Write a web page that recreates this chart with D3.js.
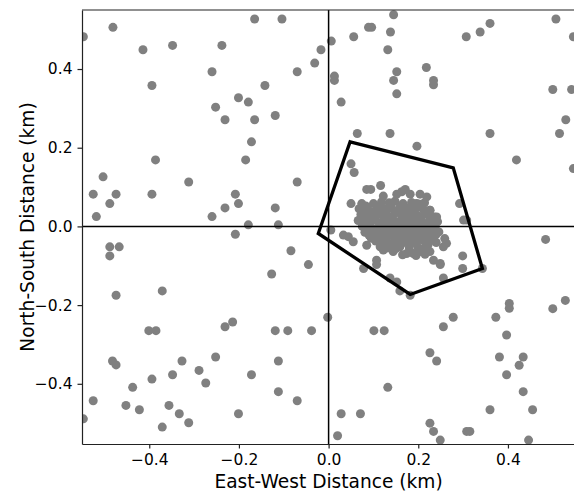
<!DOCTYPE html>
<html>
<head>
<meta charset="utf-8">
<script src="https://cdn.jsdelivr.net/npm/d3@7"></script>
<style>
  html, body { margin: 0; padding: 0; background: #fff; }
  svg { display: block; }
  text { font-family: "DejaVu Sans", sans-serif; fill: #000; }
</style>
</head>
<body>
<svg id="chart" width="574" height="493"></svg>
<script>
// Scattered points (km)
const scatterX = [
  -0.547,-0.481,-0.414,-0.348,-0.238,-0.165,-0.104,-0.260,-0.070,-0.394,
  -0.142,-0.252,-0.201,-0.179,-0.231,-0.165,-0.119,-0.172,-0.185,-0.386,
  -0.503,-0.312,-0.070,-0.525,-0.474,-0.394,-0.208,-0.488,-0.201,-0.518,
  -0.260,-0.231,-0.119,-0.179,-0.112,-0.208,-0.488,-0.467,-0.084,-0.488,
  -0.127,-0.474,-0.371,-0.231,-0.214,-0.401,-0.385,-0.119,-0.091,-0.482,
  -0.474,-0.327,-0.252,-0.112,-0.348,-0.289,-0.172,-0.394,-0.274,-0.437,
  -0.112,-0.525,-0.070,-0.452,-0.356,-0.422,-0.333,-0.201,-0.312,-0.371,
  -0.547,
  0.145,0.089,0.096,0.056,0.138,0.006,-0.017,-0.031,0.132,0.152,
  0.145,0.152,0.013,0.013,0.028,0.218,0.234,0.234,0.307,0.338,
  0.360,0.507,0.546,0.500,0.542,0.529,0.515,0.360,0.137,0.064,
  0.197,0.419,0.546,0.050,0.057,0.050,0.292,0.301,0.308,0.484,
  0.005,
  -0.045,0.343,0.299,0.299,0.256,0.249,0.107,0.107,0.078,0.137,
  0.152,0.159,0.182,0.403,0.403,0.528,0.500,0.278,0.256,0.373,
  0.397,-0.002,-0.038,0.101,0.124,0.226,0.241,0.381,0.434,0.425,
  0.397,0.132,0.434,0.028,0.071,0.360,0.455,0.020,0.226,0.234,
  0.308,0.315,0.249,0.446
];
const scatterY = [
  0.482,0.506,0.449,0.460,0.460,0.527,0.527,0.393,0.393,0.358,
  0.358,0.303,0.327,0.316,0.271,0.271,0.282,0.215,0.169,0.169,
  0.126,0.113,0.113,0.082,0.082,0.082,0.082,0.058,0.058,0.025,
  0.025,0.047,0.047,0.004,0.004,-0.020,-0.052,-0.052,-0.062,-0.075,
  -0.121,-0.175,-0.164,-0.255,-0.243,-0.265,-0.265,-0.265,-0.265,-0.342,
  -0.352,-0.342,-0.332,-0.342,-0.377,-0.366,-0.377,-0.388,-0.398,-0.409,
  -0.420,-0.443,-0.443,-0.455,-0.455,-0.466,-0.476,-0.476,-0.499,-0.510,
  -0.489,
  0.538,0.506,0.506,0.482,0.494,0.471,0.449,0.415,0.449,0.393,
  0.371,0.337,0.382,0.371,0.316,0.404,0.371,0.360,0.482,0.494,
  0.516,0.527,0.482,0.348,0.348,0.271,0.236,0.236,0.236,0.236,
  0.204,0.169,0.147,0.159,0.137,0.058,0.058,0.016,0.016,-0.033,
  -0.009,
  -0.097,-0.107,-0.075,-0.107,-0.131,-0.097,-0.086,-0.097,-0.107,-0.131,
  -0.141,-0.164,-0.175,-0.196,-0.208,-0.188,-0.209,-0.231,-0.255,-0.231,
  -0.276,-0.231,-0.265,-0.265,-0.265,-0.321,-0.342,-0.332,-0.332,-0.353,
  -0.377,-0.409,-0.420,-0.476,-0.476,-0.466,-0.466,-0.532,-0.500,-0.521,
  -0.521,-0.521,-0.543,-0.543
];

// Dense cluster points (km)
const clusterX = [
  0.122,0.152,0.163,0.182,0.204,0.219,0.085,0.094,0.171,0.116,
  0.074,0.100,0.118,0.135,0.148,0.166,0.185,0.201,0.214,
  0.068,0.088,0.108,0.126,0.141,0.158,0.176,0.193,0.210,0.226,
  0.072,0.092,0.112,0.130,0.147,0.163,0.181,0.199,0.218,0.236,
  0.066,0.084,0.104,0.121,0.139,0.156,0.172,0.190,0.207,0.225,0.243,
  0.075,0.095,0.113,0.131,0.150,0.168,0.186,0.203,0.221,0.238,
  0.081,0.100,0.118,0.137,0.155,0.173,0.192,0.210,0.229,0.246,
  0.095,0.112,0.128,0.146,0.164,0.182,0.199,0.217,0.234,
  0.118,0.140,0.165,0.196,0.222,0.240,0.263,
  0.159,0.115,0.085,0.144,0.204,0.226,0.122,0.174,0.189,
  0.234,0.249,0.256,0.033,0.044,0.055,0.241,0.226,
  0.083,0.110,0.138,0.160,0.190,0.205,
  0.080,0.100,0.120,0.150,0.170,0.188,0.215,
  0.078,0.102,0.125,0.142,0.175,0.195,0.228,
  0.090,0.115,0.135,0.160,0.180,0.200,0.215,0.232,
  0.085,0.108,0.125,0.145,0.162,0.180,0.198,0.225,
  0.090,0.108,0.133,0.150,0.170,0.205,0.222,0.240,
  0.105,0.125,0.155,0.175,0.190,0.212,0.230,
  0.130,0.150,0.180,0.200,0.215,0.165,0.195,0.215,
  0.259,0.196
];
const clusterY = [
  0.077,0.082,0.088,0.082,0.082,0.075,0.094,0.094,0.094,0.104,
  0.058,0.058,0.062,0.060,0.064,0.058,0.061,0.057,0.060,
  0.045,0.043,0.047,0.044,0.046,0.042,0.047,0.044,0.046,0.041,
  0.030,0.028,0.031,0.029,0.032,0.027,0.030,0.028,0.031,0.024,
  0.015,0.013,0.016,0.014,0.017,0.012,0.015,0.013,0.016,0.014,0.012,
  0.000,-0.002,0.001,-0.001,0.002,-0.003,0.000,0.001,-0.002,0.000,
  -0.015,-0.013,-0.016,-0.014,-0.017,-0.012,-0.015,-0.013,-0.016,-0.014,
  -0.030,-0.028,-0.031,-0.029,-0.032,-0.027,-0.030,-0.028,-0.031,
  -0.043,-0.045,-0.042,-0.044,-0.046,-0.041,-0.043,
  -0.052,-0.052,-0.048,-0.064,-0.064,-0.064,-0.060,-0.069,-0.069,
  -0.086,-0.094,-0.052,-0.022,-0.026,-0.039,0.024,0.041,
  0.052,0.050,0.053,0.051,0.054,0.050,
  0.037,0.036,0.038,0.037,0.039,0.036,0.035,
  0.022,0.021,0.023,0.022,0.024,0.021,0.020,
  0.008,0.007,0.009,0.008,0.007,0.009,0.006,0.008,
  -0.008,-0.007,-0.009,-0.008,-0.006,-0.009,-0.007,-0.008,
  -0.022,-0.021,-0.023,-0.022,-0.024,-0.021,-0.023,-0.020,
  -0.037,-0.036,-0.038,-0.037,-0.039,-0.036,-0.035,
  -0.055,-0.056,-0.054,-0.055,-0.053,-0.072,-0.074,-0.071,
  -0.031,0.058
];

// Boundary polygon vertices (km)
const hullX = [0.048, 0.278, 0.343, 0.182, -0.023];
const hullY = [0.215, 0.149, -0.107, -0.173, -0.018];

const tickValues = [-0.4, -0.2, 0.0, 0.2, 0.4];
const xDomain = [-0.55, 0.55];
const yDomain = [-0.553, 0.55];

const svg = d3.select("#chart");
const L = 82, R = 575.2, T = 10, B = 444;

const x = d3.scaleLinear().domain(xDomain).range([L, R]);
const y = d3.scaleLinear().domain(yDomain).range([B, T]);

const fmt = d => d3.format(".1f")(d).replace("-", "\u2212");

const pts = scatterX.map((v, i) => [v, scatterY[i]])
  .concat(clusterX.map((v, i) => [v, clusterY[i]]));

const plot = svg.append("g");
plot.append("clipPath").attr("id", "clip")
  .append("rect").attr("x", L).attr("y", T).attr("width", R - L).attr("height", B - T);

const inner = plot.append("g").attr("clip-path", "url(#clip)");
inner.selectAll("circle").data(pts).enter().append("circle")
  .attr("cx", d => x(d[0])).attr("cy", d => y(d[1]))
  .attr("r", 4.5).attr("fill", "#808080");

// Zero lines
inner.append("line").attr("x1", L).attr("x2", R).attr("y1", y(0)).attr("y2", y(0))
  .attr("stroke", "#000").attr("stroke-width", 1.5);
inner.append("line").attr("x1", x(0)).attr("x2", x(0)).attr("y1", T).attr("y2", B)
  .attr("stroke", "#000").attr("stroke-width", 1.5);

// Boundary polygon
const hullPts = hullX.map((v, i) => [x(v), y(hullY[i])]);
inner.append("path")
  .attr("d", d3.line()(hullPts) + "Z")
  .attr("fill", "none").attr("stroke", "#000").attr("stroke-width", 3.3)
  .attr("stroke-linejoin", "miter");

// Axes
const xAxis = d3.axisBottom(x).tickValues(tickValues).tickFormat(fmt)
  .tickSizeInner(4.5).tickSizeOuter(0).tickPadding(5);
const yAxis = d3.axisLeft(y).tickValues(tickValues).tickFormat(fmt)
  .tickSizeInner(4.5).tickSizeOuter(0).tickPadding(5);

const gx = svg.append("g").attr("transform", `translate(0,${B})`).call(xAxis);
const gy = svg.append("g").attr("transform", `translate(${L},0)`).call(yAxis);
[gx, gy].forEach(g => {
  g.select(".domain").attr("stroke", "#222").attr("stroke-width", 1.2);
  g.selectAll(".tick line").attr("stroke", "#222").attr("stroke-width", 1.2);
  g.selectAll(".tick text").style("font-family", "DejaVu Sans, sans-serif")
    .style("font-size", "15.5px").attr("fill", "#111");
});
// top and right spines
svg.append("line").attr("x1", L).attr("x2", R).attr("y1", T).attr("y2", T)
  .attr("stroke", "#222").attr("stroke-width", 1.2);
svg.append("line").attr("x1", R).attr("x2", R).attr("y1", T).attr("y2", B)
  .attr("stroke", "#222").attr("stroke-width", 1.2);

// Axis labels
svg.append("text").attr("x", (L + R) / 2).attr("y", 488)
  .attr("text-anchor", "middle").style("font-size", "18.6px").attr("fill", "#111")
  .text("East-West Distance (km)");
svg.append("text")
  .attr("transform", `translate(34,${(T + B) / 2}) rotate(-90)`)
  .attr("text-anchor", "middle").style("font-size", "18.6px").attr("fill", "#111")
  .text("North-South Distance (km)");
</script>
</body>
</html>
